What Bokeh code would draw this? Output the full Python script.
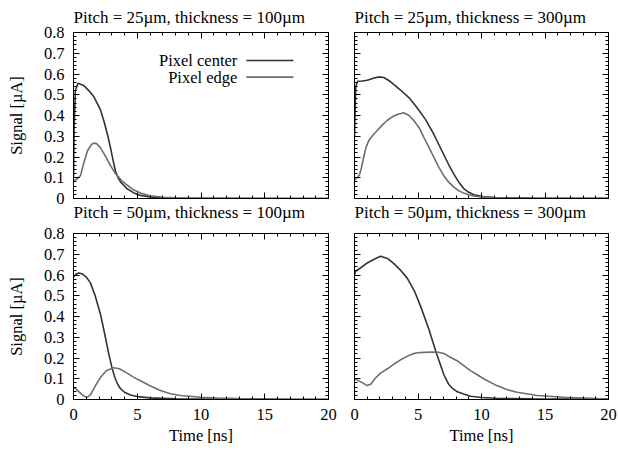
from bokeh.plotting import figure
from bokeh.layouts import gridplot
from bokeh.models import LinearAxis, Range1d, FixedTicker, Label, CustomJSTickFormatter, Title
from bokeh.embed import file_html
from bokeh.resources import INLINE

# ---------------- data ----------------
titles = ["Pitch = 25µm, thickness = 100µm", "Pitch = 25µm, thickness = 300µm",
          "Pitch = 50µm, thickness = 100µm", "Pitch = 50µm, thickness = 300µm"]
series_names = ["Pixel center", "Pixel edge"]

x_ticks = [0, 5, 10, 15, 20]
x_minor = list(range(0, 21))
y_ticks = [0, 0.1, 0.2, 0.3, 0.4, 0.5, 0.6, 0.7, 0.8]
y_minor = [round(i * 0.02, 2) for i in range(41)]

# Pitch 25um, thickness 100um
t_c1 = [0, 0.05, 0.15, 0.35, 0.8, 1.2, 1.6, 2.1, 2.4, 2.7, 2.9, 3.1, 3.3, 3.5, 3.7, 4.2, 4.7, 5.25, 6, 7, 8, 10, 20]
c1 = [0.1, 0.35, 0.52, 0.555, 0.545, 0.52, 0.49, 0.43, 0.37, 0.3, 0.245, 0.185, 0.13, 0.1, 0.079, 0.047, 0.028, 0.015, 0.007, 0.003, 0.001, 0.0005, 0]
t_e1 = [0, 0.3, 0.55, 0.8, 1.1, 1.4, 1.6, 1.8, 2.1, 2.4, 2.9, 3.3, 3.8, 4.2, 4.7, 5.3, 6, 7, 8, 10, 20]
e1 = [0.085, 0.095, 0.11, 0.17, 0.23, 0.26, 0.267, 0.265, 0.245, 0.215, 0.159, 0.119, 0.085, 0.065, 0.042, 0.025, 0.013, 0.006, 0.003, 0.001, 0]

# Pitch 25um, thickness 300um
t_c2 = [0, 0.1, 0.25, 0.6, 1.0, 1.5, 1.9, 2.3, 2.8, 3.6, 4.3, 4.9, 5.6, 6.2, 6.6, 7.0, 7.4, 7.8, 8.2, 8.6, 9.0, 9.4, 10.2, 11, 12, 14, 20]
c2 = [0.3, 0.54, 0.565, 0.566, 0.57, 0.58, 0.586, 0.583, 0.565, 0.524, 0.485, 0.44, 0.38, 0.315, 0.265, 0.215, 0.165, 0.12, 0.08, 0.048, 0.03, 0.018, 0.008, 0.005, 0.003, 0.002, 0.001]
t_e2 = [0, 0.2, 0.4, 0.55, 0.73, 0.9, 1.13, 1.45, 1.79, 2.2, 2.57, 3.0, 3.36, 3.88, 4.3, 4.67, 5.1, 5.46, 5.85, 6.24, 6.6, 7.03, 7.4, 7.82, 8.2, 8.6, 9.0, 9.4, 10.2, 11, 12, 14, 20]
e2 = [0.09, 0.1, 0.115, 0.15, 0.2, 0.245, 0.28, 0.305, 0.328, 0.355, 0.376, 0.395, 0.405, 0.413, 0.4, 0.376, 0.34, 0.295, 0.248, 0.2, 0.155, 0.11, 0.08, 0.055, 0.038, 0.026, 0.018, 0.012, 0.006, 0.004, 0.003, 0.002, 0.001]

# Pitch 50um, thickness 100um
t_c3 = [0, 0.2, 0.42, 0.7, 1.0, 1.33, 1.7, 2.12, 2.5, 2.75, 3.03, 3.25, 3.45, 3.69, 4.0, 4.47, 5.0, 6.0, 8, 12, 20]
c3 = [0.59, 0.605, 0.61, 0.605, 0.59, 0.562, 0.5, 0.41, 0.3, 0.225, 0.15, 0.105, 0.075, 0.052, 0.035, 0.022, 0.014, 0.008, 0.003, 0.001, 0]
t_e3 = [0, 0.3, 0.6, 0.9, 1.1, 1.35, 1.7, 2.12, 2.6, 3.16, 3.6, 4.2, 4.7, 5.25, 6.0, 6.82, 7.6, 8.4, 10, 11.3, 13, 16, 20]
e3 = [0.06, 0.045, 0.027, 0.014, 0.011, 0.025, 0.065, 0.107, 0.14, 0.153, 0.148, 0.127, 0.108, 0.09, 0.066, 0.043, 0.028, 0.019, 0.011, 0.007, 0.004, 0.002, 0.001]

# Pitch 50um, thickness 300um
t_c4 = [0, 0.08, 0.5, 1.0, 1.5, 2.05, 2.6, 3.1, 3.6, 4.15, 4.7, 5.2, 5.85, 6.43, 7.03, 7.4, 7.69, 8.1, 8.6, 9.13, 10, 11.2, 14, 20]
c4 = [0.6, 0.618, 0.635, 0.658, 0.675, 0.69, 0.68, 0.655, 0.625, 0.585, 0.525, 0.45, 0.34, 0.227, 0.12, 0.075, 0.055, 0.037, 0.027, 0.016, 0.01, 0.006, 0.003, 0.001]
t_e4 = [0, 0.5, 1.0, 1.3, 1.6, 2.05, 2.6, 3.1, 3.6, 4.15, 4.6, 4.94, 5.5, 6.24, 6.6, 7.03, 7.5, 8.08, 8.6, 9.13, 9.7, 10.2, 11.2, 12, 12.8, 14.4, 16.5, 19.1, 20]
e4 = [0.1, 0.085, 0.067, 0.075, 0.1, 0.127, 0.148, 0.17, 0.19, 0.208, 0.22, 0.225, 0.227, 0.229, 0.228, 0.222, 0.205, 0.187, 0.163, 0.139, 0.118, 0.099, 0.067, 0.048, 0.035, 0.019, 0.011, 0.004, 0.003]

panels = [(t_c1, c1, t_e1, e1), (t_c2, c2, t_e2, e2), (t_c3, c3, t_e3, e3), (t_c4, c4, t_e4, e4)]

# ---------------- style ----------------
FONT = "'Liberation Serif', serif"
FS = "16.5px"
FS_TITLE = "17px"
C_CENTER = "#333333"
C_EDGE = "#6e6e6e"


def style_axis(ax, ticks, minor, labels):
    ax.ticker = FixedTicker(ticks=ticks, minor_ticks=minor)
    ax.major_tick_in = 6
    ax.major_tick_out = 0
    ax.minor_tick_in = 3
    ax.minor_tick_out = 0
    ax.axis_line_color = "black"
    ax.major_tick_line_color = "black"
    ax.minor_tick_line_color = "black"
    ax.major_label_text_font = FONT
    ax.major_label_text_font_size = FS
    ax.major_label_text_color = "black"
    ax.axis_label_text_font = FONT
    ax.axis_label_text_font_size = FS
    ax.axis_label_text_font_style = "normal"
    ax.axis_label_text_color = "black"
    if labels:
        ax.major_label_standoff = 9
    else:
        ax.formatter = CustomJSTickFormatter(code="return ''")
        ax.major_label_standoff = 0


def make_title(text, standoff):
    return Title(text=text, text_font=FONT, text_font_size=FS_TITLE, text_font_style="normal",
                 text_color="black", align="left", standoff=standoff)


def make_panel(i):
    row, col = divmod(i, 2)
    left = col == 0
    bottom = row == 1
    width = 341 if left else 277
    height = 230 if bottom else 224
    p = figure(width=width, height=height, x_range=Range1d(0, 20), y_range=Range1d(0, 0.8),
               output_backend="svg", toolbar_location=None,
               min_border_left=73 if left else 13, min_border_right=13 if left else 10,
               min_border_top=9 if bottom else 32, min_border_bottom=55 if bottom else 26)
    p.title = None if bottom else make_title(titles[i], 11)
    p.xgrid.visible = False
    p.ygrid.visible = False
    p.outline_line_color = "black"
    p.outline_line_alpha = 1
    p.background_fill_color = "white"
    p.border_fill_color = "white"

    style_axis(p.xaxis[0], x_ticks, x_minor, bottom)
    style_axis(p.yaxis[0], y_ticks, y_minor, left)
    if bottom:
        p.xaxis[0].axis_label = "Time [ns]"
        p.xaxis[0].axis_label_standoff = 3
    if left:
        p.yaxis[0].axis_label = "Signal [µA]"
        p.yaxis[0].axis_label_standoff = 15
        p.yaxis[0].formatter = CustomJSTickFormatter(code="return tick == 0 ? '0' : tick.toFixed(1)")
    top_ax = LinearAxis()
    style_axis(top_ax, x_ticks, x_minor, False)
    p.add_layout(top_ax, "above")
    right_ax = LinearAxis()
    style_axis(right_ax, y_ticks, y_minor, False)
    p.add_layout(right_ax, "right")

    if not bottom:
        # title of the panel underneath sits in the gap below this panel
        p.add_layout(make_title(titles[i + 2], 5), "below")

    tc, c, te, e = panels[i]
    p.line(tc, c, line_color=C_CENTER, line_width=1.6)
    p.line(te, e, line_color=C_EDGE, line_width=1.6)

    if i == 0:
        # legend in gnuplot style: label on the left, line sample on the right
        for k, (yy, col_) in enumerate([(0.665, C_CENTER), (0.585, C_EDGE)]):
            p.add_layout(Label(x=12.85, y=yy, text=series_names[k], text_align="right",
                               text_baseline="middle", text_font=FONT, text_font_size=FS,
                               text_color="black"))
            p.segment(x0=[13.55], y0=[yy], x1=[17.25], y1=[yy], line_color=col_, line_width=1.6)
    return p


figs = [make_panel(i) for i in range(4)]
grid = gridplot([[figs[0], figs[1]], [figs[2], figs[3]]], toolbar_location=None)

open("out.html", "w").write(file_html(grid, INLINE))
